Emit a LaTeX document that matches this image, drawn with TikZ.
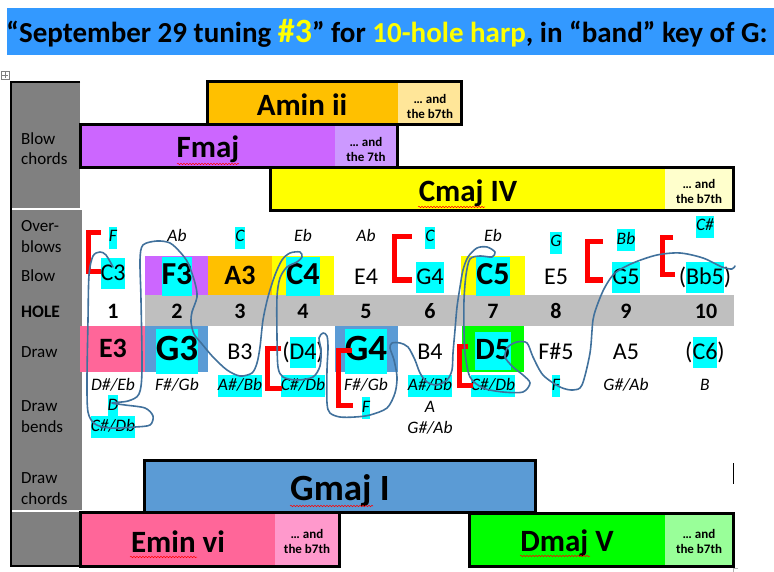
\documentclass[tikz,border=0pt]{standalone}
\usepackage{fontspec}
\setmainfont{Carlito}
\usetikzlibrary{decorations.pathmorphing}

\definecolor{banner}{RGB}{51,153,255}
\definecolor{titleyel}{RGB}{255,255,0}
\definecolor{hlcyan}{RGB}{0,255,255}
\definecolor{colgrey}{RGB}{128,128,128}
\definecolor{holegrey}{RGB}{191,191,191}
\definecolor{aminc}{RGB}{255,192,0}
\definecolor{aminl}{RGB}{255,230,153}
\definecolor{fmajc}{RGB}{204,102,255}
\definecolor{fmajl}{RGB}{204,153,255}
\definecolor{cmajc}{RGB}{255,255,0}
\definecolor{cmajl}{RGB}{255,255,204}
\definecolor{gmajc}{RGB}{91,155,213}
\definecolor{eminc}{RGB}{255,102,153}
\definecolor{eminl}{RGB}{255,153,204}
\definecolor{dmajc}{RGB}{0,255,0}
\definecolor{dmajl}{RGB}{153,255,153}
\definecolor{ink}{RGB}{65,113,156}

\newcommand\hl[1]{{\setlength\fboxsep{0pt}\colorbox{hlcyan}{\strut#1}}}

\begin{document}
\begin{tikzpicture}[
    x=1pt, y=-1pt,
    headtxt/.style={anchor=base, inner sep=0pt, font=\bfseries\fontsize{29}{34}\selectfont},
    rowlbl/.style={anchor=west, align=left, inner sep=0pt, font=\fontsize{17}{20.5}\selectfont},
    note/.style={anchor=base, inner sep=0pt, font=\fontsize{24}{31}\selectfont},
    bnote/.style={anchor=base, inner sep=0pt, font=\bfseries\fontsize{32}{39}\selectfont},
    hugenote/.style={anchor=base, inner sep=0pt, font=\bfseries\fontsize{37}{45}\selectfont},
    obtxt/.style={anchor=base, inner sep=0pt, font=\itshape\fontsize{17.5}{22}\selectfont},
    numtxt/.style={anchor=base, inner sep=0pt, font=\bfseries\fontsize{22}{26}\selectfont},
    chordtxt/.style={anchor=base, inner sep=0pt, font=\bfseries\fontsize{31}{37}\selectfont},
    seventh/.style={align=center, inner sep=0pt, font=\bfseries\fontsize{13}{15}\selectfont},
    cbox/.style={draw=black, line width=3pt},
    brk/.style={draw=red, line width=5pt},
    pen/.style={draw=ink, line width=1.6pt, line cap=round, line join=round},
    squig/.style={draw=red, line width=0.5pt, decorate, decoration={snake, amplitude=0.7pt, segment length=3pt}}
]
\useasboundingbox (0,0) rectangle (774,572);

% ------------------------
% Title banner
% ------------------------
\fill[banner] (7,8) rectangle (774,55);
\node[headtxt] (title) at (387,43)
  {“September 29 tuning {\color{titleyel}\fontsize{34}{36}\selectfont\#3}” for {\color{titleyel}10-hole harp}, in “band” key of G:};
\draw[gray, line width=0.5pt] (1,71) rectangle (9,79) (5,72) -- (5,78) (2,75) -- (8,75);

% ------------------------
% Left label column
% ------------------------
\fill[colgrey] (11,82) rectangle (80,208);
\fill[colgrey] (11,210) rectangle (82,510);
\fill[colgrey] (11,512) rectangle (80,566);
\draw[line width=2.5pt] (80,82) -- (11,82) -- (11,566) -- (80,566);

\node[rowlbl] (lblBch) at (21,148.5) {Blow\\chords};
\node[rowlbl] (lblOb) at (21,236.5) {Over-\\blows};
\node[rowlbl, anchor=base west] (lblBlow) at (21,282) {Blow};
\node[rowlbl, anchor=base west, font=\bfseries\fontsize{17.5}{20.5}\selectfont] (lblHole) at (21,317) {HOLE};
\node[rowlbl, anchor=base west] (lblDraw) at (21,357) {Draw};
\node[rowlbl] (lblBend) at (21,416.5) {Draw\\bends};
\node[rowlbl] (lblDch) at (21,488.5) {Draw\\chords};

% ------------------------
% Blow chords
% ------------------------
\fill[aminc] (207,82) rectangle (398,125);
\fill[aminl] (398,82) rectangle (461,125);
\draw[cbox] (207,82) rectangle (461,125);
\node[chordtxt] (amin) at (302,116) {Amin ii};
\node[seventh] (amin7) at (430,106) {… and\\the b7th};

\fill[fmajc] (80,125) rectangle (335,168);
\fill[fmajl] (335,125) rectangle (397,168);
\draw[cbox] (80,125) rectangle (397,168);
\node[chordtxt] (fmaj) at (208,158) {Fmaj};
\node[seventh] (fmaj7) at (366,149) {… and\\the 7th};

\fill[cmajc] (270,168) rectangle (665,211);
\fill[cmajl] (665,168) rectangle (733,211);
\draw[cbox] (270,168) rectangle (733,211);
\node[chordtxt] (cmaj) at (468,202) {Cmaj IV};
\node[seventh] (cmaj7) at (699,191) {… and\\the b7th};

% ------------------------
% Cells of the hole table
% ------------------------
\fill[fmajc] (145,256) rectangle (208,295);
\fill[aminc] (208,256) rectangle (272,295);
\fill[cmajc] (272,256) rectangle (334,295);
\fill[cmajc] (461,256) rectangle (525,295);
\fill[holegrey] (145,295) rectangle (734,326);
\fill[eminc] (80,326) rectangle (145,372);
\fill[gmajc] (145,326) rectangle (208,372);
\fill[gmajc] (335,326) rectangle (398,372);
\fill[dmajc] (462,326) rectangle (524,372);

% overblows
\node[obtxt] (o1) at (113,242) {\hl{F}};
\node[obtxt] (o2) at (177,242) {Ab};
\node[obtxt] (o3) at (240,242) {\hl{C}};
\node[obtxt] (o4) at (303,242) {Eb};
\node[obtxt] (o5) at (366,242) {Ab};
\node[obtxt] (o6) at (430,242) {\hl{C}};
\node[obtxt] (o7) at (493,242) {Eb};
\node[obtxt] (o8) at (556,247) {\hl{G}};
\node[obtxt] (o9) at (626,244) {\hl{Bb}};
\node[obtxt] (o10) at (705,231) {\hl{C\#}};

% blow notes
\node[note] (b1) at (113,280) {\hl{C3}};
\node[bnote] (b2) at (177,284) {\hl{F3}};
\node[bnote, font=\bfseries\fontsize{28}{36}\selectfont] (b3) at (240,284) {A3};
\node[bnote] (b4) at (303,284) {\hl{C4}};
\node[note] (b5) at (366,284) {E4};
\node[note] (b6) at (430,284) {\hl{G4}};
\node[bnote] (b7) at (493,284) {\hl{C5}};
\node[note] (b8) at (556,284) {E5};
\node[note] (b9) at (626,284) {\hl{G5}};
\node[note] (b10) at (705,284) {(\hl{Bb5})};

% hole numbers
\foreach \n/\x in {1/113,2/177,3/240,4/303,5/366,6/430,7/493,8/556,9/626,10/706}
  \node[numtxt] (h\n) at (\x,318) {\n};

% draw notes
\node[bnote, font=\bfseries\fontsize{28}{36}\selectfont] (d1) at (113,357) {E3};
\node[hugenote] (d2) at (177,360) {\hl{G3}};
\node[note] (d3) at (240,359) {B3};
\node[note] (d4) at (303,359) {(\hl{D4})};
\node[hugenote] (d5) at (366,360) {\hl{G4}};
\node[note] (d6) at (430,359) {B4};
\node[bnote, font=\bfseries\fontsize{31}{38}\selectfont] (d7) at (493,359) {\hl{D5}};
\node[note] (d8) at (556,359) {F\#5};
\node[note] (d9) at (626,359) {A5};
\node[note] (d10) at (705,359) {(\hl{C6})};

% draw bends
\node[obtxt] (e1) at (113,390) {D\#/Eb};
\node[obtxt] (e2) at (177,390) {F\#/Gb};
\node[obtxt] (e3) at (240,390) {\hl{A\#/Bb}};
\node[obtxt] (e4) at (303,390) {\hl{C\#/Db}};
\node[obtxt] (e5) at (366,390) {F\#/Gb};
\node[obtxt] (e6) at (430,390) {\hl{A\#/Bb}};
\node[obtxt] (e7) at (493,390) {\hl{C\#/Db}};
\node[obtxt] (e8) at (556,390) {\hl{F}};
\node[obtxt] (e9) at (626,390) {G\#/Ab};
\node[obtxt] (e10) at (705,390) {B};
\node[obtxt] (f1) at (113,410) {\hl{D}};
\node[obtxt] (f5) at (366,412) {\hl{F}};
\node[obtxt] (f6) at (430,412) {A};
\node[obtxt] (g1) at (113,431) {\hl{C\#/Db}};
\node[obtxt] (g6) at (430,433) {G\#/Ab};

% ------------------------
% Draw chords
% ------------------------
\fill[gmajc] (144,460) rectangle (535,512);
\draw[cbox] (144,460) rectangle (535,512);
\node[chordtxt, font=\bfseries\fontsize{37}{44}\selectfont] (gmaj) at (340,500) {Gmaj I};

\fill[eminc] (80,512) rectangle (275,566);
\fill[eminl] (275,512) rectangle (339,566);
\draw[cbox] (80,512) rectangle (339,566);
\node[chordtxt] (emin) at (178,552) {Emin vi};
\node[seventh] (emin7) at (307,541) {… and\\the b7th};

\fill[dmajc] (469,513) rectangle (665,566);
\fill[dmajl] (665,513) rectangle (733,566);
\draw[cbox] (469,513) rectangle (733,566);
\node[chordtxt] (dmaj) at (567,551) {Dmaj V};
\node[seventh] (dmaj7) at (699,541) {… and\\the b7th};

\draw[line width=1pt] (733,463) -- (733,484);
\draw[gray!60, line width=0.5pt] (733,572) -- (733,568) -- (738,568);

% spelling squiggles
\draw[squig] (177,164) -- (239,164);
\draw[squig] (418,207) -- (485,207);
\draw[squig] (290,506) -- (373,506);
\draw[squig] (130,557) -- (197,557);
\draw[squig] (520,556) -- (590,556);

% ------------------------
% Red brackets
% ------------------------
\draw[brk] (101,233) -- (88,233) -- (88,272) -- (101,272);
\draw[brk] (281,348) -- (267,348) -- (267,388) -- (282,388);
\draw[brk] (352,350) -- (338,350) -- (338,405) -- (353,405);
\draw[brk] (412,237) -- (394,237) -- (394,280) -- (412,280);
\draw[brk] (468,346) -- (459,346) -- (459,385) -- (473,385);
\draw[brk] (603,242) -- (587,242) -- (587,280) -- (603,280);
\draw[brk] (673,238) -- (662,238) -- (662,275) -- (675,275);

% ------------------------
% Hand-drawn ink line
% ------------------------
\draw[pen] plot[smooth, tension=0.5] coordinates {
  (113,267) (106,255) (100,252) (93,256) (89,275) (88,320) (87,380) (88,412)
  (95,424) (110,428) (135,427) (150,425) (153,416) (145,408) (125,405) (112,403)
  (128,401) (139,394) (142,370) (141,300) (140,260) (143,245) (157,241) (170,243)
  (180,252) (188,263) (195,283) (197,297) (192,312) (191,322) (194,334) (202,344)
  (213,357) (227,370) (240,376) (252,373) (257,363) (260,347) (263,320) (268,297)
  (275,275) (282,260) (290,253) (300,252) (302,257) (297,262) (287,267) (280,278)
  (277,297) (277,337) (278,367) (283,377) (297,380) (313,377) (320,366) (321,350)
  (319,338) (323,333) (327,336) (328,348) (327,370) (327,403) (330,413) (340,417)
  (355,417) (370,415) (387,408) (395,393) (397,377) (394,360) (390,348) (392,343)
  (400,343) (408,347) (415,360) (420,373) (427,382) (437,385) (447,380) (452,370)
  (453,353) (455,330) (457,307) (460,287) (463,270) (468,257) (477,248) (487,247)
  (495,252) (492,257) (480,256) (470,259) (466,275) (464,300) (464,330) (465,353)
  (470,377) (483,388) (503,392) (523,392) (530,383) (523,375) (513,367) (505,357)
  (508,347) (517,342) (527,343) (533,357) (543,375) (560,387) (573,390) (582,385)
  (590,353) (593,320) (598,303) (605,287) (615,273) (633,263) (657,255) (680,253)
  (703,258) (722,267) (732,269) (735,266)};

\end{tikzpicture}
\end{document}
